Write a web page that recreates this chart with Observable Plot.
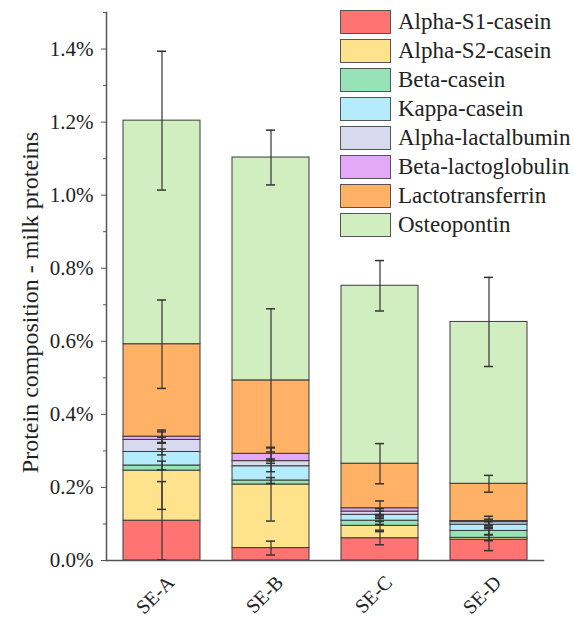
<!DOCTYPE html>
<html><head><meta charset="utf-8">
<script src="https://cdn.jsdelivr.net/npm/d3@7"></script>
<script src="https://cdn.jsdelivr.net/npm/@observablehq/plot@0.6"></script>
<style>
body{margin:0;background:#fff;}
#wrap{position:relative;width:574px;height:617px;font-family:"Liberation Serif","Times New Roman",serif;}
#legend{position:absolute;left:340px;top:7px;}
.row{display:flex;align-items:center;height:29px;}
.sw{width:49px;height:22px;border:1.5px solid #555;margin-right:7px;flex:none;}
.lab{font-size:23px;color:#222;white-space:nowrap;line-height:1;}
</style></head><body><div id="wrap"><div id="legend"></div></div>
<script>
const groups = ["SE-A", "SE-B", "SE-C", "SE-D"];
const proteins = ["Alpha-S1-casein", "Alpha-S2-casein", "Beta-casein", "Kappa-casein",
  "Alpha-lactalbumin", "Beta-lactoglobulin", "Lactotransferrin", "Osteopontin"];
const colors = ["#ff7373", "#ffe38c", "#97e3b8", "#b5ecfb", "#d8d8ef", "#e3a8f8", "#ffb266", "#d0eebf"];

// values (% of milk proteins) per protein, in order SE-A, SE-B, SE-C, SE-D
const alphaS1 = [0.109, 0.034, 0.061, 0.057];
const alphaS2 = [0.137, 0.174, 0.034, 0.005];
const betaCasein = [0.014, 0.011, 0.014, 0.019];
const kappaCasein = [0.037, 0.039, 0.016, 0.017];
const alphaLac = [0.033, 0.014, 0.009, 0.007];
const betaLg = [0.009, 0.020, 0.009, 0.003];
const lactotransferrin = [0.253, 0.201, 0.122, 0.102];
const osteopontin = [0.612, 0.610, 0.487, 0.443];

// error bar half-widths
const errAlphaS1 = [0.107, 0.019, 0.018, 0.030];
const errAlphaS2 = [0.106, 0.100, 0.012, 0.008];
const errBetaCasein = [0.012, 0.008, 0.010, 0.010];
const errKappaCasein = [0.008, 0.015, 0.010, 0.008];
const errAlphaLac = [0.007, 0.006, 0.008, 0.008];
const errBetaLg = [0.018, 0.018, 0.020, 0.013];
const errLactotransferrin = [0.121, 0.196, 0.055, 0.023];
const errOsteopontin = [0.190, 0.075, 0.069, 0.122];

const majorTicks = [0, 0.2, 0.4, 0.6, 0.8, 1.0, 1.2, 1.4];
const minorTicks = [0.1, 0.3, 0.5, 0.7, 0.9, 1.1, 1.3, 1.5];
const yTitle = "Protein composition - milk proteins";

const series = [alphaS1, alphaS2, betaCasein, kappaCasein, alphaLac, betaLg, lactotransferrin, osteopontin];
const errors = [errAlphaS1, errAlphaS2, errBetaCasein, errKappaCasein, errAlphaLac, errBetaLg, errLactotransferrin, errOsteopontin];

const rows = [];
const running = groups.map(() => 0);
proteins.forEach((p, i) => {
  groups.forEach((g, j) => {
    running[j] += series[i][j];
    rows.push({group: g, protein: p, value: series[i][j], top: running[j], err: errors[i][j]});
  });
});

const font = '"Liberation Serif","Times New Roman",serif';
const chart = Plot.plot({
  width: 574, height: 617,
  marginLeft: 106, marginRight: 31, marginTop: 12, marginBottom: 57,
  style: {fontFamily: font, fontSize: "19px", color: "#222", background: "white", overflow: "visible"},
  x: {domain: groups, paddingInner: 0.295, paddingOuter: 0.146, label: null},
  y: {domain: [0, 1.5], label: null},
  color: {domain: proteins, range: colors},
  marks: [
    Plot.barY(rows, {x: "group", y: "value", fill: "protein", stroke: "#3a3a3a", strokeWidth: 1}),
    Plot.ruleX(rows, {x: "group", y1: d => d.top - d.err, y2: d => d.top + d.err, stroke: "#333", strokeWidth: 1.2}),
    Plot.tickY(rows, {x: "group", y: d => d.top - d.err, stroke: "#333", strokeWidth: 1.5, inset: 34}),
    Plot.tickY(rows, {x: "group", y: d => d.top + d.err, stroke: "#333", strokeWidth: 1.5, inset: 34}),
    Plot.axisY({ticks: majorTicks, tickSize: 5, tickPadding: 8, tickFormat: d => d.toFixed(1) + "%", fontSize: 21, label: null, stroke: "#555"}),
    Plot.axisY({ticks: minorTicks, tickSize: 3, tickFormat: () => "", label: null, stroke: "#555"}),
    Plot.text([yTitle], {frameAnchor: "left", textAnchor: "middle", rotate: -90, dx: -76, dy: 16, fontSize: 24, fill: "#222"}),
    Plot.axisX({tickSize: 0, tickRotate: -45, fontSize: 20, dx: 9, dy: 7, label: null}),
    Plot.frame({anchor: "left", stroke: "#555", strokeWidth: 1.5}),
    Plot.frame({anchor: "bottom", stroke: "#555", strokeWidth: 1.5})
  ]
});
const wrap = document.getElementById("wrap");
wrap.insertBefore(chart, wrap.firstChild);

const legend = document.getElementById("legend");
proteins.forEach((p, i) => {
  const row = document.createElement("div");
  row.className = "row";
  const sw = document.createElement("div");
  sw.className = "sw";
  sw.style.background = colors[i];
  const lab = document.createElement("span");
  lab.className = "lab";
  lab.textContent = p;
  row.appendChild(sw);
  row.appendChild(lab);
  legend.appendChild(row);
});
</script></body></html>
